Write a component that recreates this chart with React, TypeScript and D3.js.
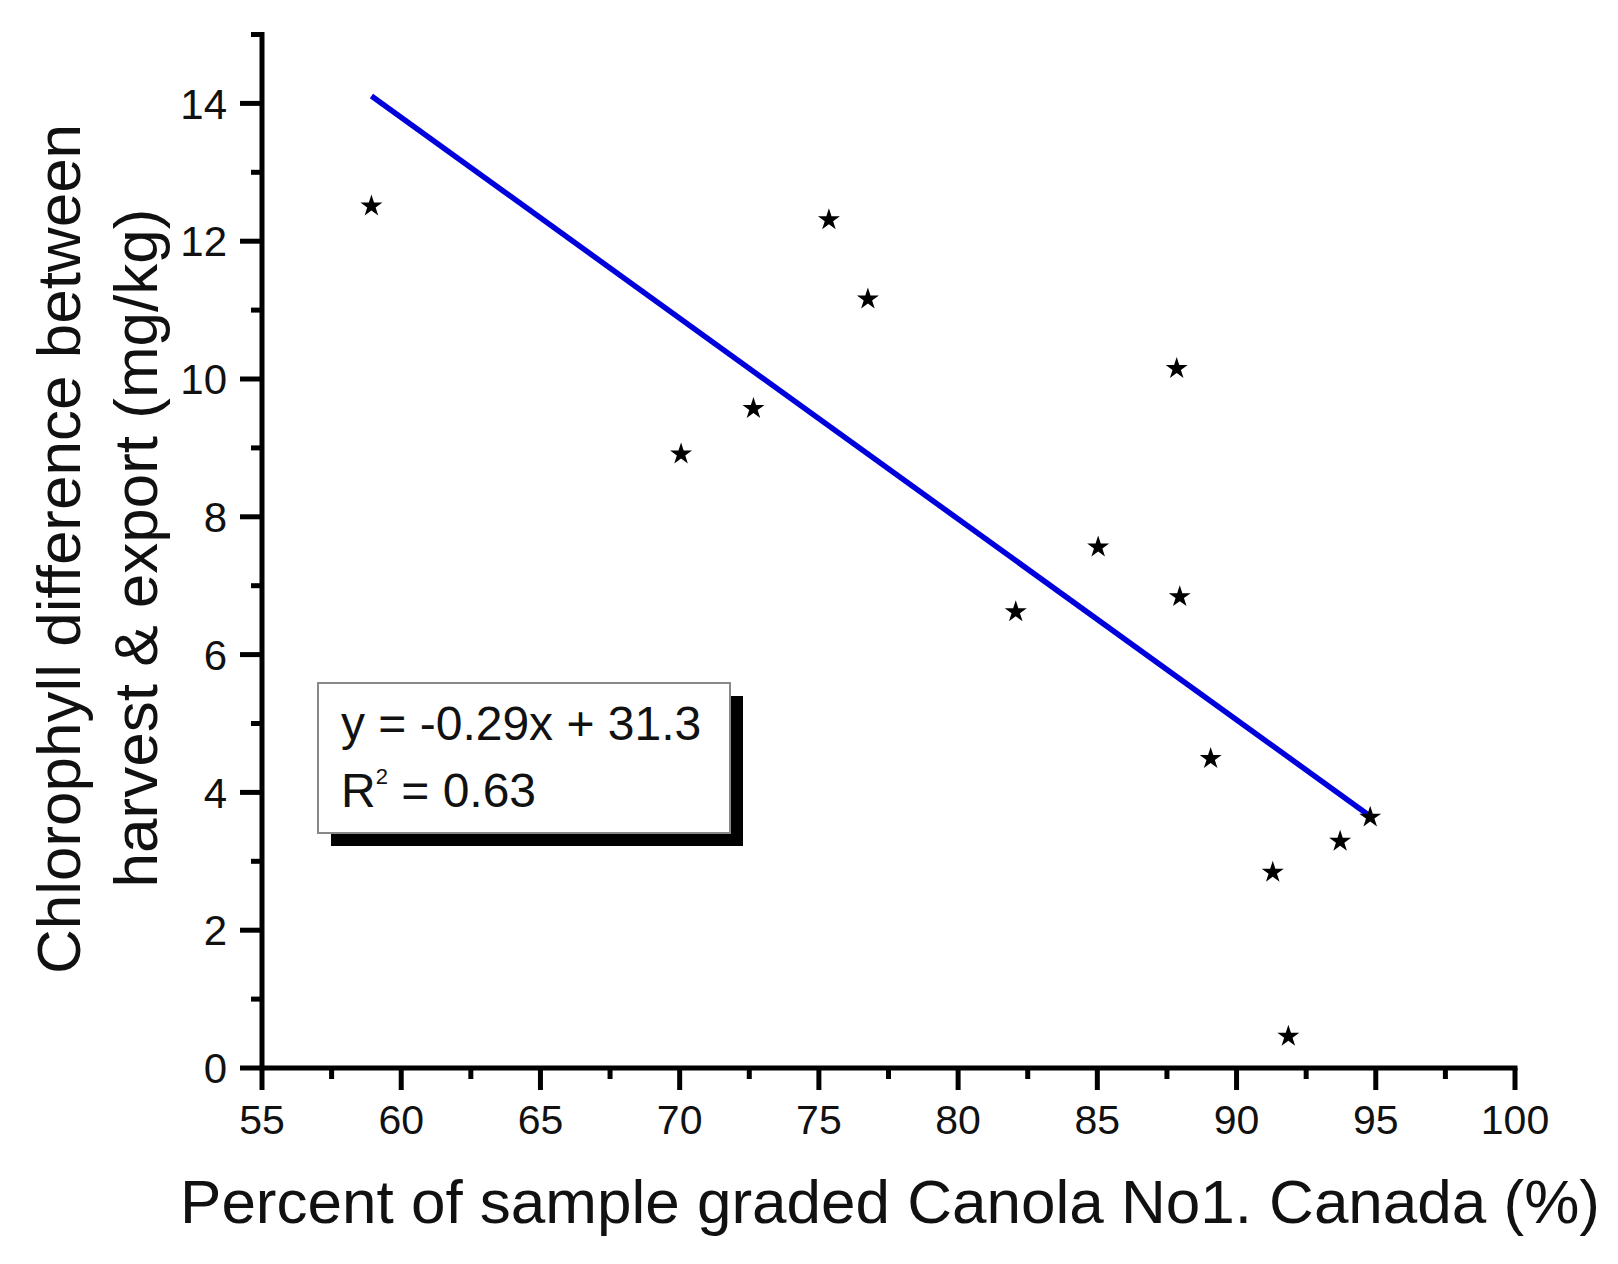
import React from "react";
import * as d3 from "d3";

// Data
const gradedPct = [58.93, 70.05, 72.65, 75.36, 76.76, 82.07, 85.03, 87.85, 87.96, 89.07, 91.3, 91.86, 93.72, 94.8];
const chlorophyllDiff = [12.51, 8.91, 9.57, 12.31, 11.16, 6.62, 7.56, 10.15, 6.84, 4.49, 2.84, 0.46, 3.29, 3.64];

const fitSlope = -0.2914;
const fitIntercept = 31.28;

const xMajorTicks = [55, 60, 65, 70, 75, 80, 85, 90, 95, 100];
const xMinorTicks = [57.5, 62.5, 67.5, 72.5, 77.5, 82.5, 87.5, 92.5, 97.5];
const yMajorTicks = [0, 2, 4, 6, 8, 10, 12, 14];
const yMinorTicks = [1, 3, 5, 7, 9, 11, 13, 15];

const xLabel = "Percent of sample graded Canola No1. Canada (%)";
const yLabelLine1 = "Chlorophyll difference between";
const yLabelLine2 = "harvest & export (mg/kg)";
const eqText = "y = -0.29x + 31.3";
const r2Value = " = 0.63";

const W = 1618;
const H = 1264;
const FONT = '"Liberation Sans", Arial, Helvetica, sans-serif';

export default function App() {
  const x = d3.scaleLinear().domain([55, 100]).range([262, 1515]);
  const y = d3.scaleLinear().domain([0, 15]).range([1068, 1068 - 15 * 68.9]);

  const star = d3.symbol(d3.symbolStar, 150)() as string;

  const xMin = d3.min(gradedPct) as number;
  const xMax = d3.max(gradedPct) as number;
  const fitLine = d3.line<number>()
    .x((d) => x(d))
    .y((d) => y(fitSlope * d + fitIntercept))([xMin, xMax]) as string;

  const axisW = 5;
  const majorLen = 22;
  const minorLen = 11;
  const x0 = x(55);
  const y0 = y(0);

  return (
    <svg
      width={W}
      height={H}
      viewBox={`0 0 ${W} ${H}`}
      style={{ position: "absolute", left: 0, top: 0, background: "#fff" }}
      fontFamily={FONT}
    >
      <rect x={0} y={0} width={W} height={H} fill="#fff" />

      {/* regression line */}
      <path d={fitLine} fill="none" stroke="#0000dd" strokeWidth={5.5} />

      {/* points */}
      {gradedPct.map((v, i) => (
        <path key={i} d={star} transform={`translate(${x(v)},${y(chlorophyllDiff[i])})`} fill="#000" />
      ))}

      {/* y axis */}
      <line x1={x0} x2={x0} y1={y0 + axisW / 2} y2={y(15) - axisW / 2} stroke="#000" strokeWidth={axisW} />
      {yMajorTicks.map((t) => (
        <g key={"ym" + t}>
          <line x1={x0 - majorLen} x2={x0} y1={y(t)} y2={y(t)} stroke="#000" strokeWidth={axisW} />
          <text x={227} y={y(t)} dy="0.36em" textAnchor="end" fontSize={42} fill="#111">{t}</text>
        </g>
      ))}
      {yMinorTicks.map((t) => (
        <line key={"yn" + t} x1={x0 - minorLen} x2={x0} y1={y(t)} y2={y(t)} stroke="#000" strokeWidth={axisW} />
      ))}

      {/* x axis */}
      <line x1={x0 - axisW / 2} x2={x(100) + axisW / 2} y1={y0} y2={y0} stroke="#000" strokeWidth={axisW} />
      {xMajorTicks.map((t) => (
        <g key={"xm" + t}>
          <line x1={x(t)} x2={x(t)} y1={y0} y2={y0 + majorLen} stroke="#000" strokeWidth={axisW} />
          <text x={x(t)} y={1134} textAnchor="middle" fontSize={41} fill="#111">{t}</text>
        </g>
      ))}
      {xMinorTicks.map((t) => (
        <line key={"xn" + t} x1={x(t)} x2={x(t)} y1={y0} y2={y0 + minorLen} stroke="#000" strokeWidth={axisW} />
      ))}

      {/* axis titles */}
      <text x={890} y={1223} textAnchor="middle" fontSize={62} fill="#111">{xLabel}</text>
      <text transform="translate(80,549) rotate(-90)" textAnchor="middle" fontSize={62} fill="#111">{yLabelLine1}</text>
      <text transform="translate(157,548) rotate(-90)" textAnchor="middle" fontSize={62} fill="#111">{yLabelLine2}</text>

      {/* equation box */}
      <rect x={331} y={696} width={412} height={150} fill="#000" />
      <rect x={318} y={683} width={412} height={150} fill="#fff" stroke="#888" strokeWidth={2} />
      <text x={341} y={740} fontSize={48} fill="#111">{eqText}</text>
      <text x={341} y={807} fontSize={48} fill="#111">
        <tspan>R</tspan>
        <tspan fontSize={22} dy={-23}>2</tspan>
        <tspan dy={23}>{r2Value}</tspan>
      </text>
    </svg>
  );
}
